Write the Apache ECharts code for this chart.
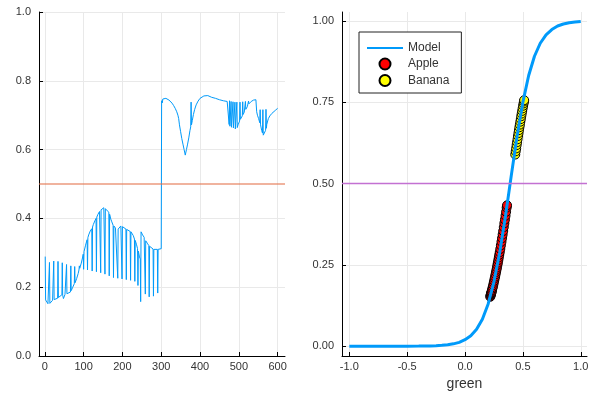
<!DOCTYPE html>
<html><head><meta charset="utf-8">
<script src="https://cdn.jsdelivr.net/npm/echarts@6/dist/echarts.min.js"></script>
<style>html,body{margin:0;padding:0;background:#fff}#c{width:600px;height:400px}</style>
</head><body><div id="c"></div>
<script>
// ---- tick labels ----
const leftXTicks = [0, 100, 200, 300, 400, 500, 600];
const leftYTicks = [0, 0.2, 0.4, 0.6, 0.8, 1.0];
const rightXTicks = [-1, -0.5, 0, 0.5, 1];
const rightYTicks = [0, 0.25, 0.5, 0.75, 1];
const threshold = 0.5;
const legendNames = ['Model', 'Apple', 'Banana'];
const xAxisName = 'green';

// ---- left panel: predicted probability per sample [sample, prob] ----
const sampleProb = [
 [1,0.289],[2,0.163],[5,0.158],[8,0.152],[11,0.153],[12,0.272],[13,0.153],[17,0.157],[20,0.162],[22,0.163],[23,0.276],[24,0.164],
 [28,0.168],[33,0.168],[34,0.275],[35,0.17],[40,0.175],[44,0.178],[45,0.271],[46,0.177],[48,0.167],[50,0.172],[52,0.179],[55,0.18],
 [56,0.266],[57,0.181],[62,0.182],[66,0.186],[67,0.262],[68,0.19],[72,0.2],[76,0.21],[77,0.26],[78,0.213],[82,0.225],[86,0.24],
 [88,0.25],[89,0.262],[90,0.255],[94,0.27],[97,0.285],[99,0.296],[100,0.252],[101,0.303],[105,0.322],[109,0.338],[110,0.25],[111,0.344],
 [113,0.352],[117,0.363],[121,0.37],[122,0.247],[123,0.375],[125,0.382],[129,0.393],[132,0.4],[133,0.245],[134,0.404],[137,0.412],
 [141,0.42],[143,0.423],[144,0.242],[145,0.425],[149,0.43],[152,0.431],[154,0.43],[155,0.238],[156,0.428],[160,0.425],[165,0.418],
 [166,0.233],[167,0.412],[170,0.398],[172,0.392],[176,0.38],[177,0.228],[178,0.378],[182,0.372],[185,0.369],[187,0.368],[188,0.226],
 [189,0.369],[192,0.373],[196,0.378],[198,0.377],[199,0.224],[200,0.376],[204,0.372],[209,0.369],[210,0.222],[211,0.368],[216,0.365],
 [220,0.362],[221,0.22],[222,0.361],[225,0.357],[228,0.35],[231,0.34],[232,0.217],[233,0.336],[236,0.325],[239,0.312],[240,0.205],
 [241,0.305],[244,0.288],[246,0.282],[247,0.158],[248,0.361],[252,0.352],[256,0.345],[258,0.34],[259,0.18],[260,0.335],[264,0.328],
 [268,0.321],[269,0.172],[270,0.319],[274,0.314],[279,0.311],[280,0.174],[281,0.31],[285,0.31],[290,0.31],[291,0.183],[292,0.31],
 [296,0.311],[300,0.312],
 [301,0.742],[302,0.746],[303,0.736],[304,0.747],[308,0.749],[312,0.749],[316,0.747],[320,0.744],[324,0.741],[328,0.735],[332,0.728],
 [336,0.72],[340,0.71],[343,0.7],[345,0.69],[347,0.672],[350,0.652],[353,0.632],[356,0.616],[359,0.6],[362,0.584],[365,0.6],[368,0.616],
 [371,0.634],[374,0.655],[376,0.666],[377,0.738],[378,0.672],[380,0.684],[383,0.702],[386,0.716],[390,0.73],[395,0.741],[400,0.749],
 [405,0.754],[410,0.756],[415,0.757],[420,0.757],[425,0.755],[430,0.752],[435,0.75],[440,0.749],[445,0.747],[450,0.745],[455,0.744],
 [460,0.742],[465,0.741],[470,0.74],[474,0.739],[475,0.673],[476,0.742],[477,0.668],[479,0.666],[480,0.74],[481,0.665],[484,0.664],
 [485,0.739],[486,0.663],[489,0.661],[490,0.738],[491,0.66],[494,0.661],[495,0.738],[496,0.664],[498,0.672],[502,0.683],[503,0.738],
 [504,0.688],[506,0.693],[509,0.698],[510,0.739],[511,0.702],[514,0.709],[516,0.714],[517,0.74],[518,0.717],[522,0.725],[524,0.729],
 [525,0.741],[526,0.733],[530,0.738],[532,0.74],[533,0.743],[534,0.741],[538,0.744],[542,0.747],[544,0.745],[546,0.71],[548,0.70],
 [551,0.69],[554,0.678],[555,0.716],[556,0.672],[559,0.655],[561,0.648],[562,0.716],[563,0.642],[565,0.64],[566,0.645],[569,0.656],
 [570,0.717],[571,0.662],[572,0.673],[576,0.69],[580,0.698],[585,0.705],[590,0.71],[595,0.715],[600,0.72]
];

// ---- right panel: model curve ----
const modelGreen = [-1.0,-0.9,-0.8,-0.7,-0.6,-0.5,-0.4,-0.3,-0.25,-0.2,-0.15,-0.1,-0.05,0.0,0.05,0.1,0.15,0.2,0.25,0.3,0.35,0.4,0.45,0.5,0.55,0.6,0.65,0.7,0.75,0.8,0.85,0.9,0.95,1.0];
const modelProb  = [0.0,0.0,0.0,0.0,0.0001,0.0002,0.0004,0.001,0.0017,0.0027,0.0045,0.0074,0.012,0.020,0.032,0.052,0.083,0.130,0.198,0.289,0.401,0.525,0.646,0.750,0.832,0.891,0.931,0.957,0.973,0.984,0.990,0.994,0.996,0.998];

// ---- right panel: observations ----
const appleGreen = [0.218,0.220,0.222,0.224,0.226,0.228,0.230,0.233,0.236,0.240,0.244,0.248,0.252,0.256,0.260,0.264,0.268,0.272,0.276,0.280,0.284,0.288,0.292,0.296,0.300,0.305,0.310,0.315,0.320,0.325,0.330,0.335,0.340,0.345,0.350,0.355,0.360,0.363];
const appleProb  = [0.152,0.155,0.158,0.160,0.163,0.165,0.168,0.172,0.177,0.182,0.188,0.195,0.201,0.208,0.214,0.221,0.228,0.235,0.242,0.250,0.257,0.265,0.273,0.281,0.289,0.299,0.310,0.321,0.332,0.343,0.354,0.366,0.378,0.389,0.401,0.413,0.426,0.433];
const bananaGreen = [0.434,0.438,0.442,0.446,0.450,0.454,0.458,0.462,0.466,0.470,0.474,0.478,0.482,0.486,0.490,0.494,0.498,0.502,0.506,0.509,0.511];
const bananaProb  = [0.589,0.599,0.608,0.618,0.627,0.636,0.646,0.655,0.664,0.673,0.681,0.690,0.698,0.707,0.715,0.723,0.731,0.739,0.746,0.752,0.756];

const FONT = '"Liberation Sans", Arial, Helvetica, sans-serif';
const pair = (xs, ys) => xs.map((x, i) => [x, ys[i]]);

function axisCommon(ticks, fmt, margin) {
  return {
    axisLine: {show: true, onZero: false, lineStyle: {color: '#000', width: 1}},
    axisTick: {show: true, inside: true, length: 4, customValues: ticks, lineStyle: {color: '#000', width: 1}},
    axisLabel: {show: true, customValues: ticks, formatter: fmt, color: '#333', fontSize: 11, fontFamily: FONT, margin: margin},
    splitLine: {show: true, lineStyle: {color: '#e9e9e9', width: 1}}
  };
}

const chart = echarts.init(document.getElementById('c'), null, {renderer: 'canvas'});
chart.setOption({
  animation: false,
  backgroundColor: '#fff',
  textStyle: {fontFamily: FONT},
  grid: [
    {left: 39, top: 12, width: 246, height: 344},
    {left: 342, top: 12, width: 245, height: 344}
  ],
  xAxis: [
    Object.assign({type: 'value', gridIndex: 0, min: -15, max: 619}, axisCommon(leftXTicks, v => String(Math.round(v)), 5)),
    Object.assign({type: 'value', gridIndex: 1, min: -1.063, max: 1.054,
      name: xAxisName, nameLocation: 'middle', nameGap: 21,
      nameTextStyle: {fontSize: 14, color: '#333', fontFamily: FONT}}, axisCommon(rightXTicks, v => v.toFixed(1), 5))
  ],
  yAxis: [
    Object.assign({type: 'value', gridIndex: 0, min: 0, max: 1}, axisCommon(leftYTicks, v => v.toFixed(1), 8)),
    Object.assign({type: 'value', gridIndex: 1, min: -0.03, max: 1.027}, axisCommon(rightYTicks, v => v.toFixed(2), 8))
  ],
  legend: {
    data: [
      {name: legendNames[0], itemStyle: {color: 'rgba(0,0,0,0)', borderWidth: 0, opacity: 0}},
      legendNames[1], legendNames[2]
    ],
    orient: 'vertical',
    left: 359, top: 32,
    padding: [10, 12, 6, 7],
    itemWidth: 36, itemHeight: 11, itemGap: 3.5,
    borderColor: '#222', borderWidth: 1, borderRadius: 0,
    backgroundColor: '#fff',
    textStyle: {fontSize: 12, color: '#333', fontFamily: FONT}
  },
  series: [
    {
      type: 'line', xAxisIndex: 0, yAxisIndex: 0,
      data: sampleProb, symbol: 'none', showSymbol: false,
      lineStyle: {color: '#009AFA', width: 1},
      markLine: {silent: true, symbol: ['none', 'none'], label: {show: false},
        lineStyle: {color: '#E36F47', width: 1.6, type: 'solid', opacity: 0.7},
        data: [{yAxis: threshold}]}
    },
    {
      name: legendNames[0], type: 'line', xAxisIndex: 1, yAxisIndex: 1,
      data: pair(modelGreen, modelProb), symbol: 'none', showSymbol: false,
      itemStyle: {color: '#009AFA'},
      lineStyle: {color: '#009AFA', width: 3},
      markLine: {silent: true, symbol: ['none', 'none'], label: {show: false}, z: 10,
        lineStyle: {color: '#C371D2', width: 1.3, type: 'solid', opacity: 1},
        data: [{yAxis: threshold}]}
    },
    {
      name: legendNames[1], type: 'scatter', xAxisIndex: 1, yAxisIndex: 1,
      data: pair(appleGreen, appleProb), symbol: 'circle', symbolSize: 9,
      itemStyle: {color: '#FF0000', borderColor: '#000', borderWidth: 1, opacity: 1}
    },
    {
      name: legendNames[2], type: 'scatter', xAxisIndex: 1, yAxisIndex: 1,
      data: pair(bananaGreen, bananaProb), symbol: 'circle', symbolSize: 9,
      itemStyle: {color: '#FFFF00', borderColor: '#000', borderWidth: 1, opacity: 1}
    }
  ]
});
</script>
</body></html>
